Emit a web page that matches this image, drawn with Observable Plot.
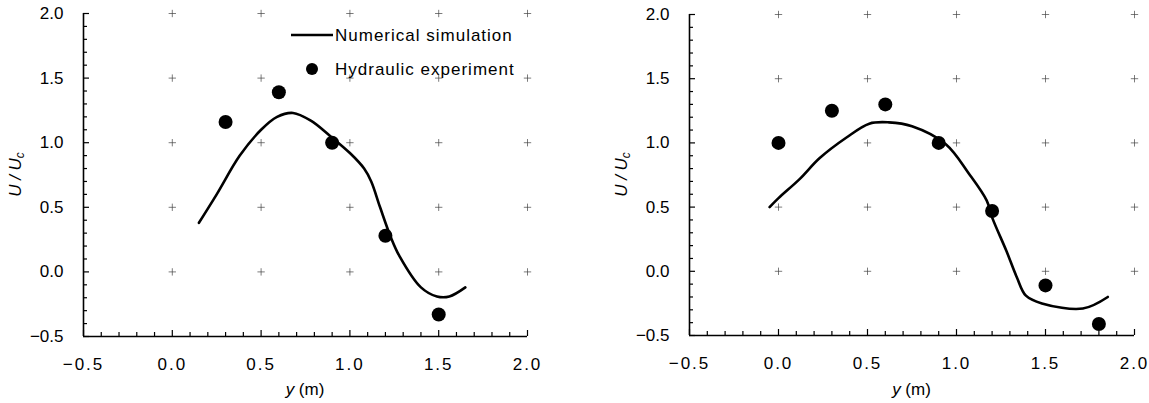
<!DOCTYPE html>
<html>
<head>
<meta charset="utf-8">
<script src="https://cdn.jsdelivr.net/npm/d3@7"></script>
<script src="https://cdn.jsdelivr.net/npm/@observablehq/plot@0.6"></script>
<style>
  html, body { margin: 0; padding: 0; background: #fff; }
  #wrap { position: relative; width: 1149px; height: 403px; overflow: hidden; background: #fff; }
  #wrap svg { position: absolute; top: 0; }
</style>
</head>
<body>
<div id="wrap"></div>
<script>
// ---- tick values ----
const majorTicks = [-0.5, 0.0, 0.5, 1.0, 1.5, 2.0];
const minorTicks = [-0.4, -0.3, -0.2, -0.1, 0.1, 0.2, 0.3, 0.4, 0.6, 0.7, 0.8, 0.9, 1.1, 1.2, 1.3, 1.4, 1.6, 1.7, 1.8, 1.9];
const gridTicks = [0.0, 0.5, 1.0, 1.5, 2.0];

// ---- left panel: numerical simulation ----
const leftSimY = [0.15, 0.25, 0.38, 0.50, 0.59, 0.68, 0.78, 0.89, 1.00, 1.08, 1.12, 1.17, 1.23, 1.28, 1.40, 1.49, 1.56, 1.65];
const leftSimU = [0.38, 0.60, 0.90, 1.10, 1.20, 1.23, 1.17, 1.05, 0.92, 0.80, 0.70, 0.50, 0.27, 0.12, -0.12, -0.19, -0.19, -0.12];
// ---- left panel: hydraulic experiment ----
const leftExpY = [0.3, 0.6, 0.9, 1.2, 1.5];
const leftExpU = [1.16, 1.39, 1.00, 0.28, -0.33];

// ---- right panel: numerical simulation ----
const rightSimY = [-0.05, 0.0, 0.12, 0.23, 0.38, 0.51, 0.62, 0.75, 0.94, 1.07, 1.17, 1.20, 1.28, 1.34, 1.39, 1.48, 1.71, 1.85];
const rightSimU = [0.50, 0.57, 0.72, 0.88, 1.04, 1.15, 1.16, 1.13, 0.99, 0.76, 0.55, 0.42, 0.16, -0.05, -0.19, -0.25, -0.29, -0.20];
// ---- right panel: hydraulic experiment ----
const rightExpY = [0.0, 0.3, 0.6, 0.9, 1.2, 1.5, 1.8];
const rightExpU = [1.00, 1.25, 1.30, 1.00, 0.47, -0.11, -0.41];

const legendLabels = ["Numerical simulation", "Hydraulic experiment"];

const FONT = "'Liberation Sans', Arial, sans-serif";
const FS = 17;
const fmt = d3.format(".1f");

function panel({left, width, marginLeft, marginRight, marginTop, marginBottom, simY, simU, expY, expU, legend}) {
  const height = 403;
  const ph = height - marginTop - marginBottom;
  const pw = width - marginLeft - marginRight;
  const sim = simY.map((y, i) => ({y, u: simU[i]}));
  const exp = expY.map((y, i) => ({y, u: expU[i]}));
  const grid = d3.cross(gridTicks, gridTicks, (x, y) => ({x, y}));
  const svg = Plot.plot({
    width, height, marginLeft, marginRight, marginTop, marginBottom,
    x: {domain: [-0.5, 2.0]},
    y: {domain: [-0.5, 2.0]},
    style: {fontFamily: FONT, fontSize: FS + "px", color: "#000", background: "transparent"},
    marks: [
      Plot.dot(grid, {x: "x", y: "y", symbol: "plus", r: 2.5, stroke: "#444", strokeWidth: 0.7}),
      // minor & major inward ticks
      Plot.tickX(minorTicks, {x: d => d, insetTop: ph - 4, stroke: "#000", strokeWidth: 1.2}),
      Plot.tickX(majorTicks, {x: d => d, insetTop: ph - 6, stroke: "#000", strokeWidth: 1.2}),
      Plot.tickY(minorTicks, {y: d => d, insetRight: pw - 4, stroke: "#000", strokeWidth: 1.2}),
      Plot.tickY(majorTicks, {y: d => d, insetRight: pw - 6, stroke: "#000", strokeWidth: 1.2}),
      Plot.ruleX([-0.5], {stroke: "#000", strokeWidth: 1.6}),
      Plot.ruleY([-0.5], {stroke: "#000", strokeWidth: 1.6}),
      Plot.axisX(majorTicks, {tickSize: 0, tickPadding: 21, tickFormat: fmt, label: null, fontSize: FS}),
      Plot.axisY(majorTicks, {tickSize: 0, tickPadding: 20, tickFormat: fmt, label: null, fontSize: FS}),
      Plot.line(sim, {x: "y", y: "u", stroke: "#000", strokeWidth: 2.6, curve: "catmull-rom"}),
      Plot.dot(exp, {x: "y", y: "u", r: 7, fill: "#000"})
    ]
  });
  svg.style.left = left + "px";
  const s = d3.select(svg);
  s.selectAll('[aria-label$="tick label"]').attr("font-size", FS).style("font-size", FS + "px");
  s.selectAll('[aria-label$="tick label"] text').attr("font-size", FS).style("font-size", FS + "px");
  s.selectAll('[aria-label="x-axis tick label"] text').attr("letter-spacing", "2px");

  // y axis title: U / Uc
  const yl = s.append("text")
    .attr("transform", `translate(${marginLeft - 68},${marginTop + ph / 2}) rotate(-90)`)
    .attr("text-anchor", "middle")
    .attr("dy", "0.35em")
    .attr("font-family", FONT).attr("font-size", FS).attr("font-style", "italic");
  yl.append("tspan").text("U / U");
  yl.append("tspan").attr("font-size", 12).attr("baseline-shift", "-25%").text("c");

  // x axis title: y (m)
  const xl = s.append("text")
    .attr("x", marginLeft + pw / 2).attr("y", height - 8)
    .attr("text-anchor", "middle")
    .attr("font-family", FONT).attr("font-size", FS);
  xl.append("tspan").attr("font-style", "italic").text("y");
  xl.append("tspan").text(" (m)");

  if (legend) {
    const g = s.append("g").attr("font-family", FONT).attr("font-size", FS).attr("text-anchor", "start");
    g.append("line").attr("x1", 291).attr("x2", 333).attr("y1", 35).attr("y2", 35)
      .attr("stroke", "#000").attr("stroke-width", 2.6);
    g.append("text").attr("x", 335).attr("y", 35).attr("dy", "0.35em").attr("letter-spacing", "1px").text(legendLabels[0]);
    g.append("circle").attr("cx", 312).attr("cy", 69).attr("r", 6).attr("fill", "#000");
    g.append("text").attr("x", 335).attr("y", 69).attr("dy", "0.35em").attr("letter-spacing", "1px").text(legendLabels[1]);
  }
  document.getElementById("wrap").appendChild(svg);
}

panel({left: 0, width: 560, marginLeft: 83, marginRight: 33, marginTop: 13, marginBottom: 67,
       simY: leftSimY, simU: leftSimU, expY: leftExpY, expU: leftExpU, legend: true});
panel({left: 580, width: 569, marginLeft: 109, marginRight: 15, marginTop: 14, marginBottom: 68,
       simY: rightSimY, simU: rightSimU, expY: rightExpY, expU: rightExpU, legend: false});
</script>
</body>
</html>
